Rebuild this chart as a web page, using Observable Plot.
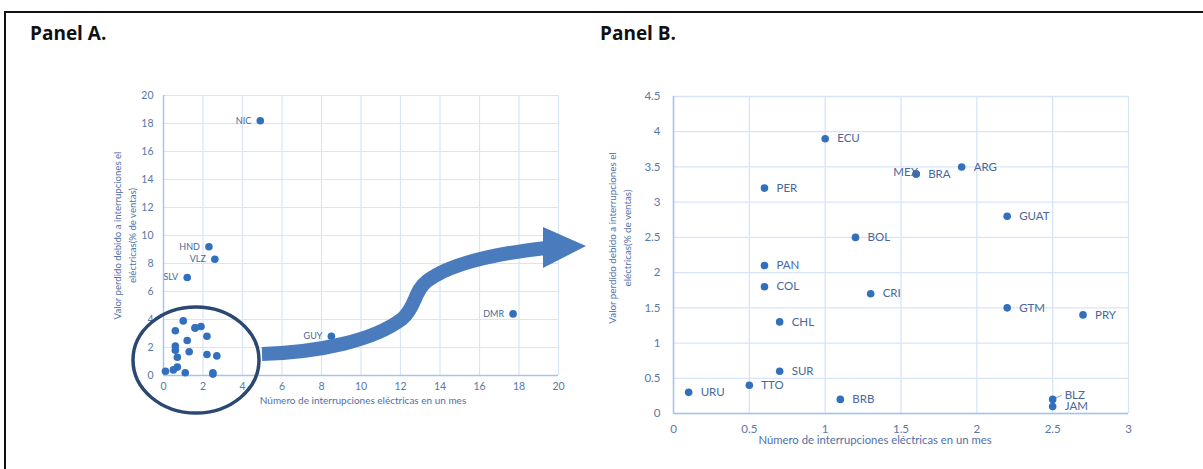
<!DOCTYPE html>
<html>
<head>
<meta charset="utf-8">
<script src="https://cdn.jsdelivr.net/npm/d3@7"></script>
<script src="https://cdn.jsdelivr.net/npm/@observablehq/plot@0.6"></script>
<style>
  html, body { margin: 0; padding: 0; background: #fff; }
  #wrap { position: relative; width: 1203px; height: 469px; overflow: hidden; background: #fff; }
  #frame { position: absolute; left: 4px; top: 11px; width: 1300px; height: 600px; border-top: 2px solid #111; border-left: 2px solid #111; }
  .title { position: absolute; font-family: "Open Sans", sans-serif; font-weight: 700; font-size: 19px; line-height: 19px; color: #111; white-space: nowrap; }
  .panel { position: absolute; top: 0; }
  #overlay { position: absolute; left: 0; top: 0; pointer-events: none; }
</style>
</head>
<body>
<div id="wrap">
  <div id="frame"></div>
  <div class="title" style="left:30px; top:24px;">Panel A.</div>
  <div class="title" style="left:600px; top:24px;">Panel B.</div>
  <div id="panelA" class="panel" style="left:0px;"></div>
  <div id="panelB" class="panel" style="left:590px;"></div>
</div>
<script>
// ---- Data ----
// Countries shown in both panels (zoomed in Panel B)
const countriesB    = ["ECU","PER","MEX","BRA","ARG","GUAT","BOL","PAN","COL","CRI","GTM","PRY","CHL","SUR","TTO","URU","BRB","BLZ","JAM"];
const interruptionsB = [1.0, 0.6, 1.6, 1.6, 1.9, 2.2, 1.2, 0.6, 0.6, 1.3, 2.2, 2.7, 0.7, 0.7, 0.5, 0.1, 1.1, 2.5, 2.5];
const lossB          = [3.9, 3.2, 3.4, 3.4, 3.5, 2.8, 2.5, 2.1, 1.8, 1.7, 1.5, 1.4, 1.3, 0.6, 0.4, 0.3, 0.2, 0.2, 0.1];
// Extra countries only in Panel A
const countriesA     = ["NIC","HND","VLZ","SLV","GUY","DMR"];
const interruptionsA = [4.9, 2.3, 2.6, 1.2, 8.5, 17.7];
const lossA          = [18.2, 9.2, 8.3, 7.0, 2.8, 4.4];
// Axis ticks
const ticksAx = [0,2,4,6,8,10,12,14,16,18,20];
const ticksAy = [0,2,4,6,8,10,12,14,16,18,20];
const ticksBx = [0,0.5,1,1.5,2,2.5,3];
const ticksBy = [0,0.5,1,1.5,2,2.5,3,3.5,4,4.5];
// Texts
const xLabel = "Número de interrupciones eléctricas en un mes";
const yLabel = "Valor perdido debido a interrupciones el\neléctricas(% de ventas)";

// ---- Build rows ----
const rowsB = countriesB.map((c,i) => ({country:c, x:interruptionsB[i], y:lossB[i]}));
const rowsA = countriesA.map((c,i) => ({country:c, x:interruptionsA[i], y:lossA[i]}));
const allA = rowsA.concat(rowsB);

const gridColor = "#d7e5f7";
const axisColor = "#a9c4ea";
const dotColor = "#3270bd";
const tickColor = "#5a77a6";
const labelColor = "#48679a";
const font = "Lato, 'Open Sans', sans-serif";

// ---- Panel A ----
const plotA = Plot.plot({
  width: 590, height: 469,
  marginLeft: 163, marginRight: 32, marginTop: 95, marginBottom: 94,
  style: {fontFamily: font, fontSize: "10.5px", color: tickColor, background: "transparent", overflow: "visible"},
  x: {domain: [0, 20], ticks: ticksAx, tickSize: 0, tickPadding: 7, label: null, tickFormat: d => String(d)},
  y: {domain: [0, 20], ticks: ticksAy, tickSize: 0, tickPadding: 10, label: null, tickFormat: d => String(d)},
  marks: [
    Plot.ruleX(ticksAx, {stroke: gridColor, strokeWidth: 1.2}),
    Plot.ruleY(ticksAy, {stroke: gridColor, strokeWidth: 1.2}),
    Plot.ruleX([0], {stroke: axisColor, strokeWidth: 1.4}),
    Plot.ruleY([0], {stroke: axisColor, strokeWidth: 1.4}),
    Plot.dot(allA, {x: "x", y: "y", r: 3.8, fill: dotColor, stroke: null}),
    Plot.text(rowsA, {x: "x", y: "y", text: "country", textAnchor: "end", dx: -9, fontSize: 9, fill: labelColor}),
    Plot.text([xLabel], {frameAnchor: "bottom", textAnchor: "middle", dy: 28, dx: 2, fontSize: 10, fill: "#4f70a8"}),
    Plot.text([yLabel], {frameAnchor: "left", textAnchor: "middle", rotate: -90, dx: -40, fontSize: 9.6, lineHeight: 1.6, fill: "#4f70a8"})
  ]
});
document.getElementById("panelA").appendChild(plotA);

// ---- Panel B ----
const leftLabel = new Set(["MEX"]);
const plotB = Plot.plot({
  width: 613, height: 469,
  marginLeft: 83, marginRight: 75, marginTop: 96, marginBottom: 56,
  style: {fontFamily: font, fontSize: "11.5px", color: tickColor, background: "transparent", overflow: "visible"},
  x: {domain: [0, 3], ticks: ticksBx, tickSize: 0, tickPadding: 11, label: null, tickFormat: d => String(d)},
  y: {domain: [0, 4.5], ticks: ticksBy, tickSize: 0, tickPadding: 13, label: null, tickFormat: d => String(d)},
  marks: [
    Plot.ruleX(ticksBx, {stroke: gridColor, strokeWidth: 1.3}),
    Plot.ruleY(ticksBy, {stroke: gridColor, strokeWidth: 1.3}),
    Plot.ruleX([0], {stroke: axisColor, strokeWidth: 1.5}),
    Plot.ruleY([0], {stroke: axisColor, strokeWidth: 1.5}),
    Plot.link(rowsB.filter(d => d.country === "BLZ"), {x1: "x", y1: "y", x2: d => d.x + 0.06, y2: d => d.y + 0.06, stroke: "#7ea3d6", strokeWidth: 1}),
    Plot.dot(rowsB, {x: "x", y: "y", r: 3.8, fill: dotColor, stroke: null}),
    Plot.text(rowsB.filter(d => !leftLabel.has(d.country) && d.country !== "BLZ"), {x: "x", y: "y", text: "country", textAnchor: "start", dx: 12, fontSize: 11.5, fill: labelColor}),
    Plot.text(rowsB.filter(d => d.country === "BLZ"), {x: "x", y: "y", text: "country", textAnchor: "start", dx: 12, dy: -4, fontSize: 11.5, fill: labelColor}),
    Plot.text(rowsB.filter(d => leftLabel.has(d.country)), {x: "x", y: "y", text: "country", textAnchor: "end", dx: 2, dy: -2, fontSize: 11.5, fill: labelColor}),
    Plot.text([xLabel], {frameAnchor: "bottom", textAnchor: "middle", dy: 30, dx: -26, fontSize: 11.3, fill: "#4f70a8"}),
    Plot.text([yLabel], {frameAnchor: "left", textAnchor: "middle", rotate: -90, dx: -55, dy: -17, fontSize: 9.8, lineHeight: 1.6, fill: "#4f70a8"})
  ]
});
document.getElementById("panelB").appendChild(plotB);

// ---- Annotation overlay: circle around the cluster and the connecting arrow ----
const ov = d3.select("#wrap").append("svg").attr("id", "overlay").attr("width", 1203).attr("height", 469);
ov.append("path")
  .attr("d", "M262,354 C322,352 374,340 402,319 C416,307 414,291 427,281 C447,266 482,255 546,248")
  .attr("fill", "none").attr("stroke", "#4a7bbd").attr("stroke-width", 14);
ov.append("path")
  .attr("d", "M543,227 L586,246 L543,268 Z")
  .attr("fill", "#4a7bbd");
ov.append("ellipse")
  .attr("cx", 196).attr("cy", 360).attr("rx", 63).attr("ry", 53)
  .attr("fill", "none").attr("stroke", "#2b4870").attr("stroke-width", 3.5);
</script>
</body>
</html>
